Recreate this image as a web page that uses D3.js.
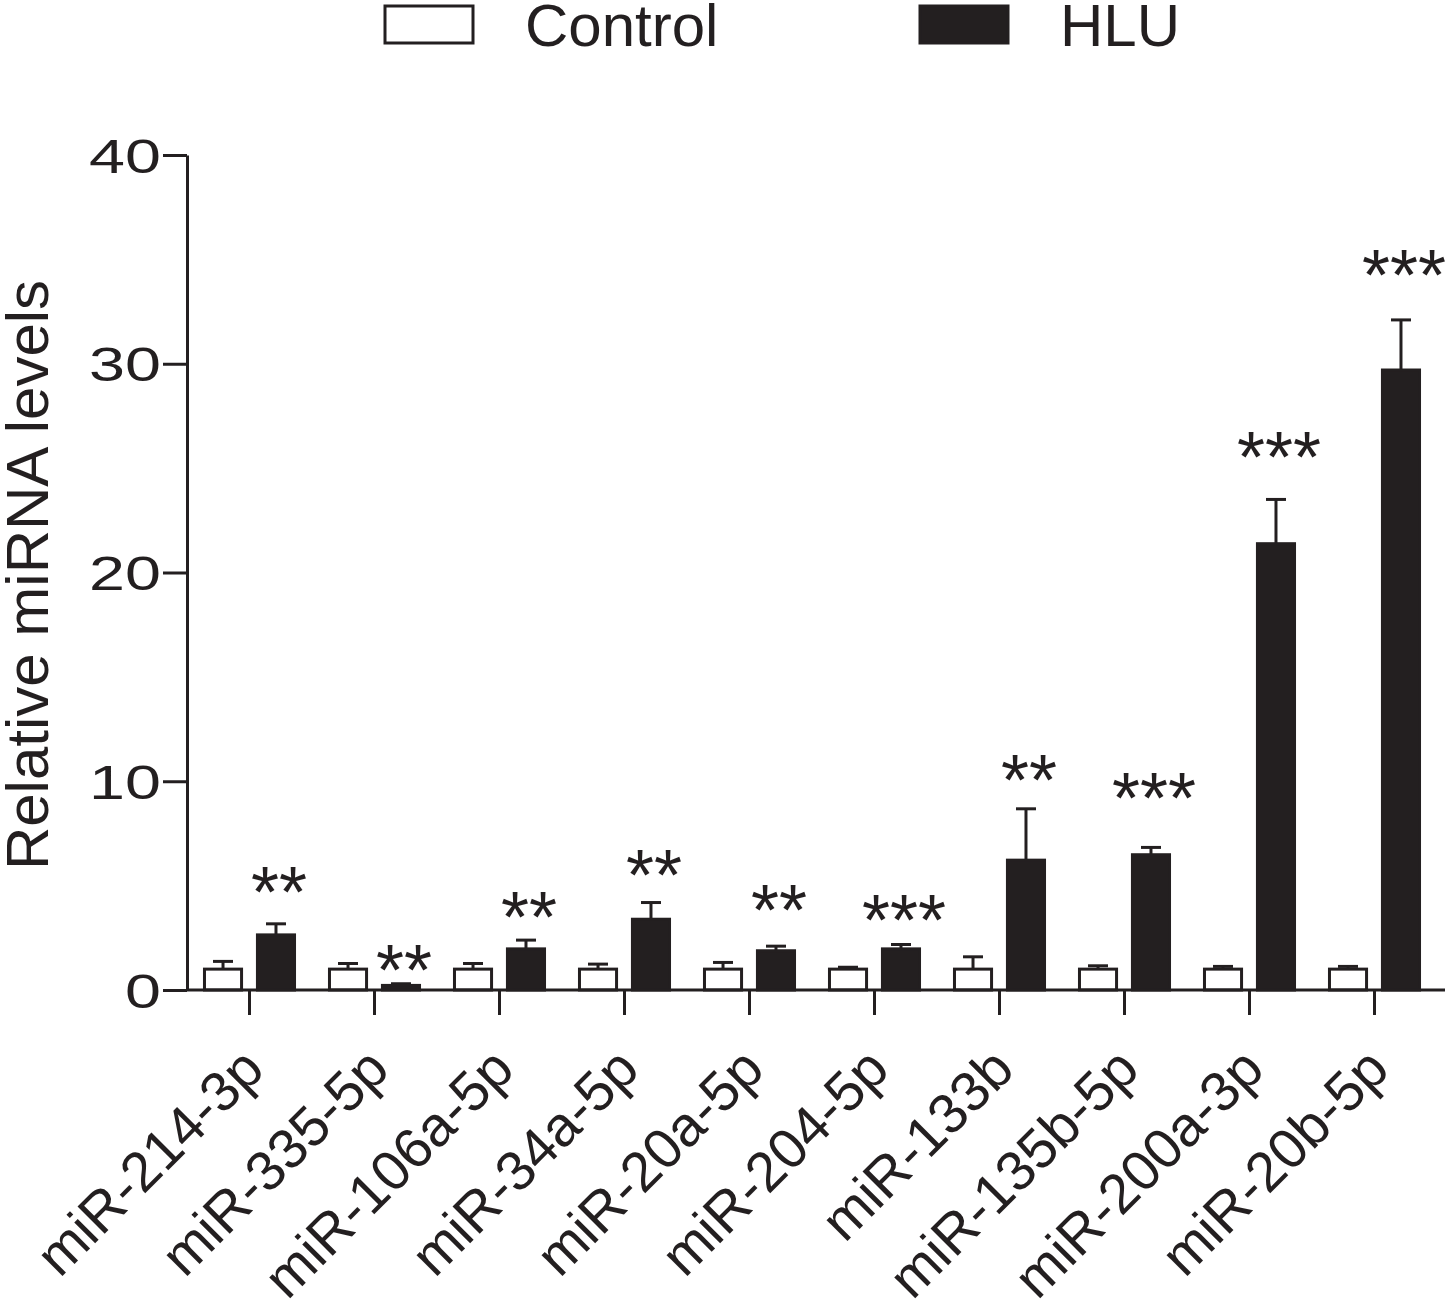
<!DOCTYPE html>
<html>
<head>
<meta charset="utf-8">
<script src="https://cdn.jsdelivr.net/npm/d3@7"></script>
<style>
  body { margin: 0; background: #fff; }
  svg { display: block; }
</style>
</head>
<body>
<div id="chart"></div>
<script>
// values
const categories = ["miR-214-3p", "miR-335-5p", "miR-106a-5p", "miR-34a-5p", "miR-20a-5p",
  "miR-204-5p", "miR-133b", "miR-135b-5p", "miR-200a-3p", "miR-20b-5p"];
const groups = ["Control", "HLU"];
const controlMean = [1, 1, 1, 1, 1, 1, 1, 1, 1, 1];
const controlErr = [0.37, 0.27, 0.27, 0.24, 0.32, 0.09, 0.59, 0.16, 0.13, 0.13];
const hluMean = [2.64, 0.22, 1.97, 3.39, 1.88, 1.97, 6.22, 6.48, 21.38, 29.7];
const hluErr = [0.53, 0.08, 0.42, 0.8, 0.22, 0.21, 2.46, 0.35, 2.12, 2.4];
const stars = ["**", "**", "**", "**", "**", "***", "**", "***", "***", "***"];
const starLevel = [4.93, 1.2, 3.74, 5.75, 4.07, 3.59, 10.3, 9.44, 25.77, 34.49];
const yTicks = [0, 10, 20, 30, 40];

const width = 1447, height = 1310;
const ink = "#231f20";
const font = "Liberation Sans, Arial, Helvetica, sans-serif";
const margin = {top: 155, right: 10, bottom: 320, left: 187};

const data = categories.map((c, i) => ({
  cat: c,
  vals: [
    {g: "Control", mean: controlMean[i], err: controlErr[i]},
    {g: "HLU", mean: hluMean[i], err: hluErr[i]}
  ],
  star: stars[i],
  starLevel: starLevel[i]
}));

const x0 = d3.scaleBand()
  .domain(categories)
  .range([margin.left, margin.left + 1250]);
const x1 = d3.scaleBand()
  .domain(groups)
  .range([0, x0.bandwidth()])
  .paddingInner(0.3)
  .paddingOuter(0.33);
const y = d3.scaleLinear()
  .domain([0, 40])
  .range([height - margin.bottom, margin.top]);

const svg = d3.select("#chart").append("svg")
  .attr("width", width)
  .attr("height", height)
  .attr("viewBox", [0, 0, width, height])
  .style("font-family", font);

// bars + error bars
const gBars = svg.append("g")
  .selectAll("g")
  .data(data)
  .join("g")
    .attr("transform", d => `translate(${x0(d.cat)},0)`);

gBars.selectAll("line.err")
  .data(d => d.vals)
  .join("line")
    .attr("class", "err")
    .attr("x1", d => x1(d.g) + x1.bandwidth() / 2)
    .attr("x2", d => x1(d.g) + x1.bandwidth() / 2)
    .attr("y1", d => y(d.mean))
    .attr("y2", d => y(d.mean + d.err))
    .attr("stroke", ink)
    .attr("stroke-width", 3);

gBars.selectAll("line.cap")
  .data(d => d.vals)
  .join("line")
    .attr("class", "cap")
    .attr("x1", d => x1(d.g) + x1.bandwidth() / 2 - 10)
    .attr("x2", d => x1(d.g) + x1.bandwidth() / 2 + 10)
    .attr("y1", d => y(d.mean + d.err))
    .attr("y2", d => y(d.mean + d.err))
    .attr("stroke", ink)
    .attr("stroke-width", 3);

gBars.selectAll("rect")
  .data(d => d.vals)
  .join("rect")
    .attr("x", d => x1(d.g))
    .attr("width", x1.bandwidth())
    .attr("y", d => y(d.mean))
    .attr("height", d => y(0) - y(d.mean))
    .attr("fill", d => d.g === "HLU" ? ink : "#fff")
    .attr("stroke", ink)
    .attr("stroke-width", 3);

// significance stars
const starSize = 72;
gBars.append("text")
  .attr("x", x1("HLU") + x1.bandwidth() / 2 + 3)
  .attr("y", d => y(d.starLevel) + 0.42 * starSize)
  .attr("text-anchor", "middle")
  .attr("font-size", starSize)
  .attr("fill", ink)
  .text(d => d.star);

// y axis
const gy = svg.append("g")
  .attr("transform", `translate(${margin.left},0)`)
  .call(d3.axisLeft(y).tickValues(yTicks).tickSize(24).tickPadding(3).tickSizeOuter(0));
gy.select(".domain").attr("stroke", ink).attr("stroke-width", 3);
gy.selectAll(".tick line").attr("stroke", ink).attr("stroke-width", 3);
gy.selectAll(".tick text")
  .attr("font-family", font)
  .attr("font-size", 49)
  .attr("fill", ink)
  .attr("transform", "scale(1.32,1)")
  .attr("x", -26 / 1.32)
  .attr("dy", "0.35em");

// x axis
const gx = svg.append("g")
  .attr("transform", `translate(0,${y(0)})`)
  .call(d3.axisBottom(x0).tickSize(25).tickSizeOuter(0));
gx.select(".domain").remove();
gx.append("line")
  .attr("x1", margin.left)
  .attr("x2", width - 2)
  .attr("stroke", ink)
  .attr("stroke-width", 3);
gx.selectAll(".tick line").attr("stroke", ink).attr("stroke-width", 3);
gx.selectAll(".tick text")
  .attr("font-family", font)
  .attr("font-size", 56)
  .attr("fill", ink)
  .attr("text-anchor", "end")
  .attr("dy", null)
  .attr("y", 0)
  .attr("transform", "translate(17,82) rotate(-45)");

// y title
svg.append("text")
  .attr("transform", `translate(48,${(y(0) + 160) / 2}) rotate(-90)`)
  .attr("text-anchor", "middle")
  .attr("font-size", 60)
  .attr("fill", ink)
  .text("Relative miRNA levels");

// legend
const legend = svg.append("g")
  .selectAll("g")
  .data(groups)
  .join("g")
    .attr("transform", (d, i) => `translate(${385 + i * 535},6)`);
legend.append("rect")
  .attr("width", 88)
  .attr("height", 37)
  .attr("fill", d => d === "HLU" ? ink : "#fff")
  .attr("stroke", ink)
  .attr("stroke-width", 3);
legend.append("text")
  .attr("x", 140)
  .attr("y", 40)
  .attr("font-size", 60)
  .attr("fill", ink)
  .text(d => d);
</script>
</body>
</html>
